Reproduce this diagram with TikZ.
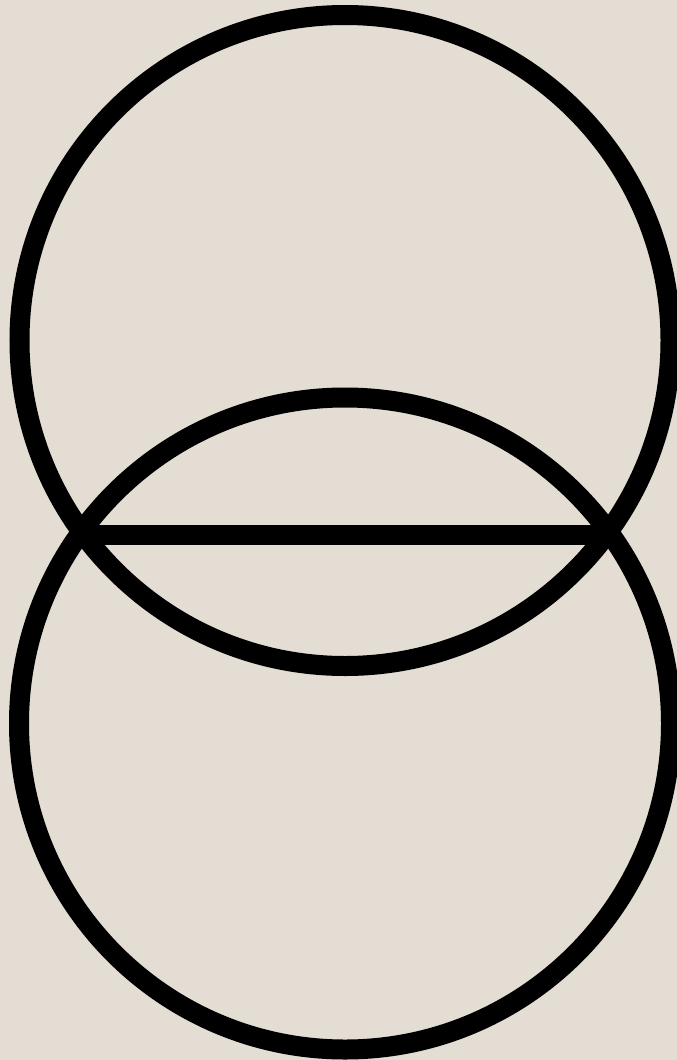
\documentclass[tikz,border=0pt]{standalone}
\usetikzlibrary{calc}
\definecolor{paper}{HTML}{E3DDD3}
\tikzset{ring/.style={draw=black,line width=20pt},
         chord/.style={draw=black,line width=20pt}}
\begin{document}
\begin{tikzpicture}[x=1pt,y=-1pt]
\useasboundingbox (0,0) rectangle (677,1060);
\fill[paper] (0,0) rectangle (677,1060);
\coordinate (c1) at (345,340.5);
\coordinate (c2) at (345,723.5);
\draw[ring] (c1) circle[radius=325.5];
\draw[ring] (c2) circle[radius=326];
\coordinate (pl) at (81,535);
\coordinate (pr) at (609,535);
\draw[chord] (pl) -- (pr);
\end{tikzpicture}
\end{document}
